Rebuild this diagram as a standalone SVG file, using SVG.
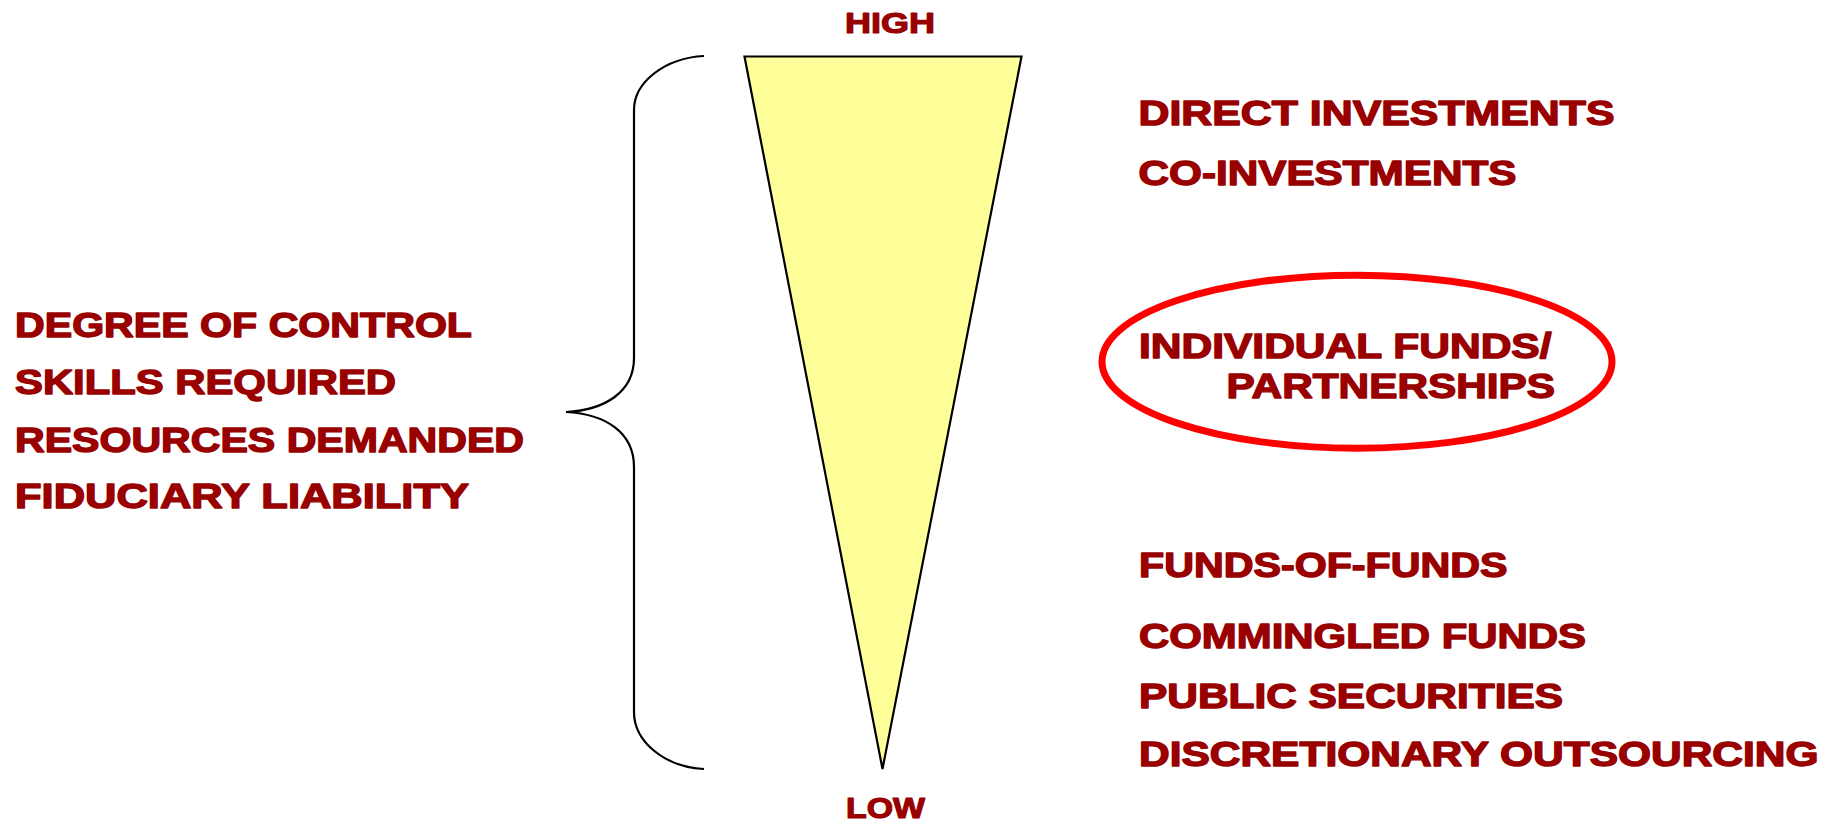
<svg xmlns="http://www.w3.org/2000/svg" width="1841" height="820" viewBox="0 0 1841 820">
<style>
.t{font-family:"Liberation Sans",Arial,sans-serif;font-weight:bold;fill:#990000;stroke:#990000;stroke-width:1.4;stroke-linejoin:round;font-size:35px}
.s{font-size:30px;stroke-width:1.2}
.ln{fill:none;stroke:#000;stroke-width:2.2}
</style>
<rect width="1841" height="820" fill="#fff"/>
<g id="funnel">
<polygon points="744.5,56.5 1021.5,56.5 882.5,769" fill="#FFFF99" stroke="#000" stroke-width="2.2" stroke-linejoin="miter"/>
</g>
<g id="connectors">
<path class="ln" d="M704,56 C665,58 634,82 634,110 L634,358 C634,392 605,410 566,412 C605,414 634,432 634,467 L634,712 C634,742 665,767 704,769"/>
</g>
<g id="scale-labels">
<text class="t s" x="845" y="33" textLength="90" lengthAdjust="spacingAndGlyphs">HIGH</text>
<text class="t s" x="846" y="817.5" textLength="79" lengthAdjust="spacingAndGlyphs">LOW</text>
</g>
<g id="attributes">
<text class="t" x="15" y="337" textLength="457" lengthAdjust="spacingAndGlyphs">DEGREE OF CONTROL</text>
<text class="t" x="15" y="394" textLength="381" lengthAdjust="spacingAndGlyphs">SKILLS REQUIRED</text>
<text class="t" x="15" y="451.5" textLength="509" lengthAdjust="spacingAndGlyphs">RESOURCES DEMANDED</text>
<text class="t" x="15" y="507.5" textLength="454" lengthAdjust="spacingAndGlyphs">FIDUCIARY LIABILITY</text>
</g>
<g id="direct">
<text class="t" x="1138.5" y="125" textLength="476" lengthAdjust="spacingAndGlyphs">DIRECT INVESTMENTS</text>
</g>
<g id="co">
<text class="t" x="1138.5" y="185" textLength="378" lengthAdjust="spacingAndGlyphs">CO-INVESTMENTS</text>
</g>
<g id="individual">
<ellipse cx="1357" cy="361.7" rx="255" ry="86.5" fill="none" stroke="#FF0000" stroke-width="7"/>
<text class="t" x="1139" y="357.5" textLength="412.5" lengthAdjust="spacingAndGlyphs">INDIVIDUAL FUNDS/</text>
<text class="t" x="1226.5" y="397.5" textLength="328.5" lengthAdjust="spacingAndGlyphs">PARTNERSHIPS</text>
</g>
<g id="fof">
<text class="t" x="1139" y="577.3" textLength="368.5" lengthAdjust="spacingAndGlyphs">FUNDS-OF-FUNDS</text>
</g>
<g id="commingled">
<text class="t" x="1139" y="648.3" textLength="447" lengthAdjust="spacingAndGlyphs">COMMINGLED FUNDS</text>
</g>
<g id="public">
<text class="t" x="1139" y="707.7" textLength="424" lengthAdjust="spacingAndGlyphs">PUBLIC SECURITIES</text>
</g>
<g id="outsourcing">
<text class="t" x="1139" y="766" textLength="679.5" lengthAdjust="spacingAndGlyphs">DISCRETIONARY OUTSOURCING</text>
</g>
</svg>
